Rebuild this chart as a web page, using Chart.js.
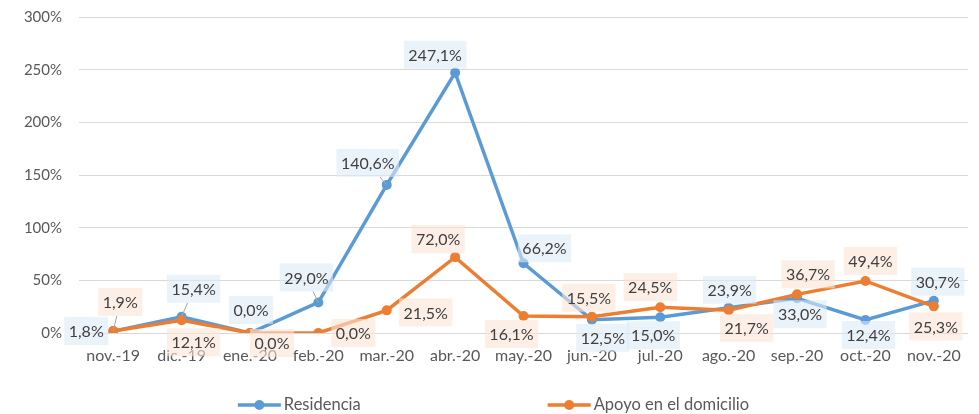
<!DOCTYPE html>
<html>
<head>
<meta charset="utf-8">
<script src="https://cdn.jsdelivr.net/npm/chart.js@4.4.1/dist/chart.umd.min.js"></script>
<style>
  html, body { margin: 0; padding: 0; background: #fff; }
  #chart { display: block; }
</style>
</head>
<body>
<canvas id="chart" width="979" height="414"></canvas>
<script>
const MONTHS = ['nov.-19', 'dic.-19', 'ene.-20', 'feb.-20', 'mar.-20', 'abr.-20', 'may.-20',
    'jun.-20', 'jul.-20', 'ago.-20', 'sep.-20', 'oct.-20', 'nov.-20'];
const RESIDENCIA = [1.8, 15.4, 0.0, 29.0, 140.6, 247.1, 66.2, 12.5, 15.0, 23.9, 33.0, 12.4, 30.7];
const APOYO = [1.9, 12.1, 0.0, 0.0, 21.5, 72.0, 16.1, 15.5, 24.5, 21.7, 36.7, 49.4, 25.3];
const Y_MIN = 0;
const Y_MAX = 300;
const Y_STEP = 50;

// label box centre relative to its point (px), and which labels get a leader line
const RESIDENCIA_LABEL_POS = [[-27, 0], [12, -28], [1, -23], [-12, -25], [-19, -22], [-20, -18], [21, -15],
    [11, 18], [-7, 18], [1, -18], [3, 16], [3, 15], [4, -19]];
const APOYO_LABEL_POS = [[7, -29], [12, 22], [22, 10], [35, 0], [39, 2], [-17, -18], [-12, 18],
    [-3, -19], [-10, -20], [18, 18], [11, -20], [5, -20], [2, 20]];
const RESIDENCIA_LEADERS = [1, 3, 4];
const APOYO_LEADERS = [0];

const BLUE = '#5B9BD5';
const ORANGE = '#ED7D31';
const FONT = 'Lato, "Open Sans", sans-serif';

const fmt = v => v.toFixed(1).replace('.', ',') + '%';

const valueLabels = {
    id: 'valueLabels',
    afterDatasetsDraw(chart) {
        const ctx = chart.ctx;
        ctx.save();
        ctx.font = '16px ' + FONT;
        ctx.textAlign = 'center';
        ctx.textBaseline = 'middle';
        chart.data.datasets.forEach((ds, di) => {
            const meta = chart.getDatasetMeta(di);
            meta.data.forEach((pt, i) => {
                const [dx, dy] = ds.labelPos[i];
                const text = fmt(ds.data[i]);
                const w = ctx.measureText(text).width + 9;
                const h = 28;
                const cx = pt.x + dx, cy = pt.y + dy;
                if (ds.leaders.includes(i)) {
                    const vx = pt.x - cx, vy = pt.y - cy;
                    const s = Math.min(w / 2 / Math.abs(vx || 1e-6), h / 2 / Math.abs(vy || 1e-6));
                    ctx.strokeStyle = '#A6A6A6';
                    ctx.lineWidth = 1;
                    ctx.beginPath();
                    ctx.moveTo(cx + vx * s, cy + vy * s);
                    ctx.lineTo(pt.x, pt.y);
                    ctx.stroke();
                }
                ctx.fillStyle = ds.labelFill;
                ctx.fillRect(cx - w / 2, cy - h / 2, w, h);
                ctx.fillStyle = '#404040';
                ctx.fillText(text, cx, cy + 1);
            });
        });
        ctx.restore();
    }
};

const bottomLegend = {
    id: 'bottomLegend',
    afterDraw(chart) {
        const ctx = chart.ctx;
        const y = 405, iconW = 43, gap = 187;
        ctx.save();
        ctx.font = '16.5px ' + FONT;
        ctx.textBaseline = 'middle';
        ctx.textAlign = 'left';
        const items = chart.data.datasets.map(ds => ({ ds, w: iconW + 3 + ctx.measureText(ds.label).width }));
        const total = items.reduce((a, it) => a + it.w, 0) + gap * (items.length - 1);
        let x = (chart.width - total) / 2 + 4;
        items.forEach(it => {
            ctx.strokeStyle = it.ds.borderColor;
            ctx.lineWidth = 3.5;
            ctx.beginPath();
            ctx.moveTo(x, y);
            ctx.lineTo(x + iconW, y);
            ctx.stroke();
            ctx.fillStyle = it.ds.borderColor;
            ctx.beginPath();
            ctx.arc(x + iconW / 2, y, 5, 0, Math.PI * 2);
            ctx.fill();
            ctx.fillStyle = '#595959';
            ctx.fillText(it.ds.label, x + iconW + 3, y);
            x += it.w + gap;
        });
        ctx.restore();
    }
};

new Chart(document.getElementById('chart').getContext('2d'), {
    type: 'line',
    data: {
        labels: MONTHS,
        datasets: [{
            label: 'Residencia',
            data: RESIDENCIA,
            borderColor: BLUE,
            backgroundColor: BLUE,
            borderWidth: 3.5,
            pointRadius: 5,
            pointBorderWidth: 0,
            tension: 0,
            order: 1,
            labelPos: RESIDENCIA_LABEL_POS,
            leaders: RESIDENCIA_LEADERS,
            labelFill: 'rgba(222, 235, 247, 0.6)',
        }, {
            label: 'Apoyo en el domicilio',
            data: APOYO,
            borderColor: ORANGE,
            backgroundColor: ORANGE,
            borderWidth: 3.5,
            pointRadius: 5,
            pointBorderWidth: 0,
            tension: 0,
            order: 0,
            labelPos: APOYO_LABEL_POS,
            leaders: APOYO_LEADERS,
            labelFill: 'rgba(251, 229, 214, 0.6)',
        }],
    },
    options: {
        responsive: false,
        animation: false,
        devicePixelRatio: 1,
        layout: { padding: { top: 17, right: 11, bottom: 46, left: 0 } },
        plugins: {
            legend: { display: false },
            tooltip: { enabled: false },
        },
        scales: {
            x: {
                offset: true,
                grid: { display: false, drawTicks: false },
                border: { display: false },
                ticks: { color: '#595959', font: { family: FONT, size: 16 }, padding: 13, maxRotation: 0, autoSkip: false },
                afterFit: s => { s.height = 35; },
            },
            y: {
                min: Y_MIN,
                max: Y_MAX,
                grid: { color: '#D9D9D9', lineWidth: 1, drawTicks: true, tickLength: 14, tickColor: 'rgba(0,0,0,0)' },
                border: { display: false },
                ticks: { stepSize: Y_STEP, color: '#595959', font: { family: FONT, size: 15 }, padding: 3, callback: v => v + '%' },
                afterFit: s => { s.width = 79; },
            },
        },
    },
    plugins: [valueLabels, bottomLegend],
});
</script>
</body>
</html>
